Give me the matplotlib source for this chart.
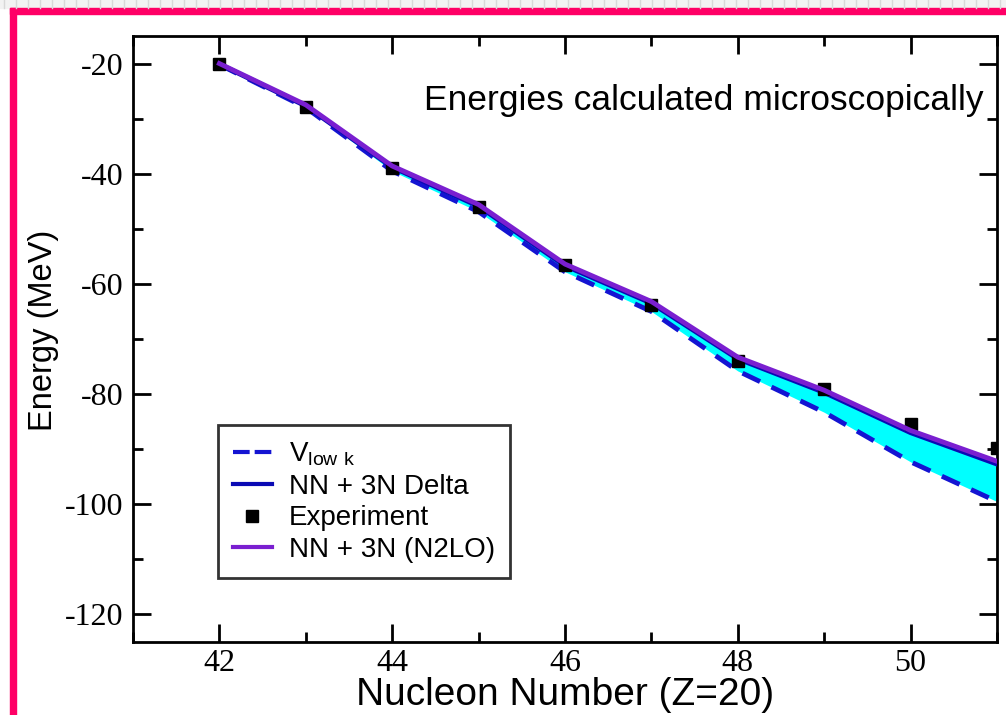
import numpy as np
import matplotlib.pyplot as plt
from matplotlib.patches import Rectangle
from matplotlib.lines import Line2D

# Data
nucleon = [42, 43, 44, 45, 46, 47, 48, 49, 50, 51]
experiment = [-20.0, -27.9, -39.0, -46.0, -56.6, -63.8, -74.0, -79.0, -85.5, -89.8]
n2lo = [-20.0, -27.5, -38.6, -45.6, -56.4, -63.2, -73.3, -79.3, -86.6, -92.2]
delta = [-20.1, -27.7, -38.8, -45.9, -56.7, -63.5, -73.6, -79.7, -87.0, -92.7]
vlowk = [-20.2, -28.0, -39.5, -46.9, -57.8, -65.0, -75.8, -83.3, -92.3, -99.5]

xticks = [42, 44, 46, 48, 50]
yticks = [-120, -100, -80, -60, -40, -20]

purple = '#7a1fd0'
blue = '#1414d2'
dblue = '#0a0ab4'

plt.rcParams['mathtext.fontset'] = 'custom'
plt.rcParams['mathtext.rm'] = 'Liberation Sans'

fig = plt.figure(figsize=(10.06, 7.15), dpi=100)
ax = fig.add_axes([133 / 1006, 1 - 642 / 715, 864 / 1006, 606 / 715])

# band between Vlowk and NN+3N Delta
ax.fill_between(nucleon, vlowk, delta, color='#00ffff', linewidth=0, zorder=1)
ax.plot(nucleon, vlowk, color=blue, lw=3.5, dashes=(4, 2.6), zorder=2)
ax.plot(nucleon, delta, color=dblue, lw=3.5, zorder=3)
ax.plot(nucleon, experiment, 's', color='black', ms=9, zorder=4)
ax.plot(nucleon, n2lo, color=purple, lw=3.5, zorder=5)

ax.set_xlim(41, 51)
ax.set_ylim(-125, -15)
ax.set_xticks(xticks)
ax.set_xticks(np.arange(41, 52, 1), minor=True)
ax.set_yticks(yticks)
ax.set_yticks(np.arange(-120, -15, 10), minor=True)
ax.set_yticklabels([str(v) for v in yticks])
ax.tick_params(which='both', direction='in', top=True, right=True, width=2)
ax.tick_params(which='major', length=13, labelsize=23, pad=7)
ax.tick_params(axis='x', which='major', pad=5)
ax.tick_params(which='minor', length=7)
for lab in ax.get_xticklabels() + ax.get_yticklabels():
    lab.set_family('Liberation Serif')
for s in ax.spines.values():
    s.set_linewidth(2)

ax.set_xlabel('Nucleon Number (Z=20)', family='Liberation Sans', fontsize=28, labelpad=-1)
ax.set_ylabel('Energy (MeV)', family='Liberation Sans', fontsize=23.5)
ax.yaxis.set_label_coords(-0.086, 0.515)
ax.text(0.984, 0.893, 'Energies calculated microscopically', transform=ax.transAxes,
        ha='right', va='center', family='Liberation Sans', fontsize=25.5)

handles = [
    Line2D([], [], color=blue, lw=3, dashes=(4, 1.2)),
    Line2D([], [], color=dblue, lw=3),
    Line2D([], [], ls='none', marker='s', color='black', ms=8),
    Line2D([], [], color=purple, lw=3),
]
labels = ['V$_{\\mathregular{low\\ k}}$', 'NN + 3N Delta', 'Experiment', 'NN + 3N (N2LO)']
leg = ax.legend(handles, labels, loc='upper left', bbox_to_anchor=(0.098, 0.358),
                borderaxespad=0, fancybox=False, handlelength=1.4, handletextpad=0.6,
                labelspacing=0.2, borderpad=0.55, prop={'family': 'Liberation Sans', 'size': 20})
leg.get_frame().set_edgecolor('black')
leg.get_frame().set_linewidth(2)

# pink frame and light strip along the top
fig.patches.append(Rectangle((0, 1 - 8 / 715), 1, 8 / 715, transform=fig.transFigure,
                             color='#f2f2f2', zorder=0))
for px in range(4, 1006, 12):
    fig.add_artist(Line2D([px / 1006, px / 1006], [1 - 8 / 715, 1], transform=fig.transFigure,
                          color='#d8d8d8', lw=1))
fig.patches.append(Rectangle((10 / 1006, 1 - 14 / 715), 1, 6 / 715, transform=fig.transFigure,
                             color='#ff0066', zorder=0))
fig.patches.append(Rectangle((10 / 1006, 0), 6 / 1006, 1 - 8 / 715, transform=fig.transFigure,
                             color='#ff0066', zorder=0))

fig.savefig('out.png', dpi=100)
